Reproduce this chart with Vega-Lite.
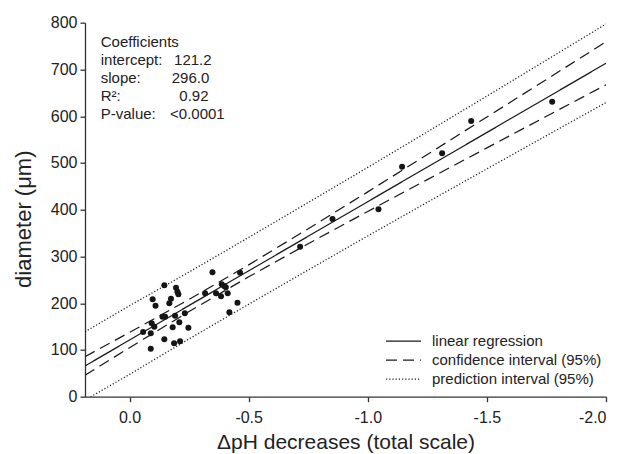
{
  "$schema": "https://vega.github.io/schema/vega-lite/v6.json",
  "width": 521,
  "height": 374,
  "autosize": {"type": "none"},
  "padding": {"left": 85, "top": 22.7, "right": 16, "bottom": 57.3},
  "background": "white",
  "config": {
    "view": {"stroke": null},
    "font": "Liberation Sans",
    "axis": {
      "labelFont": "Liberation Sans",
      "titleFont": "Liberation Sans",
      "labelFontSize": 16,
      "titleFontSize": 21,
      "titleFontWeight": "normal",
      "labelColor": "#222",
      "titleColor": "#222",
      "domainColor": "#333",
      "tickColor": "#333",
      "domainWidth": 1.3,
      "tickWidth": 1.3,
      "tickSize": 5,
      "grid": false
    },
    "legend": {
      "labelFont": "Liberation Sans",
      "labelFontSize": 15,
      "labelColor": "#222",
      "labelLimit": 400
    }
  },
  "datasets": {
    "fits": [
      {"x": 0.187, "y": 65.8, "kind": "linear regression", "band": "mid"},
      {"x": 0, "y": 121.2, "kind": "linear regression", "band": "mid"},
      {"x": -0.5, "y": 269.2, "kind": "linear regression", "band": "mid"},
      {"x": -1.0, "y": 417.2, "kind": "linear regression", "band": "mid"},
      {"x": -1.5, "y": 565.2, "kind": "linear regression", "band": "mid"},
      {"x": -2.0, "y": 713.2, "kind": "linear regression", "band": "mid"},

      {"x": 0.187, "y": 85.8, "kind": "confidence interval (95%)", "band": "ciU"},
      {"x": 0, "y": 137.5, "kind": "confidence interval (95%)", "band": "ciU"},
      {"x": -0.25, "y": 208.1, "kind": "confidence interval (95%)", "band": "ciU"},
      {"x": -0.5, "y": 282.0, "kind": "confidence interval (95%)", "band": "ciU"},
      {"x": -0.75, "y": 359.1, "kind": "confidence interval (95%)", "band": "ciU"},
      {"x": -1.0, "y": 438.1, "kind": "confidence interval (95%)", "band": "ciU"},
      {"x": -1.25, "y": 518.0, "kind": "confidence interval (95%)", "band": "ciU"},
      {"x": -1.5, "y": 598.2, "kind": "confidence interval (95%)", "band": "ciU"},
      {"x": -1.75, "y": 678.6, "kind": "confidence interval (95%)", "band": "ciU"},
      {"x": -2.0, "y": 759.2, "kind": "confidence interval (95%)", "band": "ciU"},

      {"x": 0.187, "y": 45.8, "kind": "confidence interval (95%)", "band": "ciL"},
      {"x": 0, "y": 104.9, "kind": "confidence interval (95%)", "band": "ciL"},
      {"x": -0.25, "y": 182.3, "kind": "confidence interval (95%)", "band": "ciL"},
      {"x": -0.5, "y": 256.4, "kind": "confidence interval (95%)", "band": "ciL"},
      {"x": -0.75, "y": 327.3, "kind": "confidence interval (95%)", "band": "ciL"},
      {"x": -1.0, "y": 396.3, "kind": "confidence interval (95%)", "band": "ciL"},
      {"x": -1.25, "y": 464.4, "kind": "confidence interval (95%)", "band": "ciL"},
      {"x": -1.5, "y": 532.2, "kind": "confidence interval (95%)", "band": "ciL"},
      {"x": -1.75, "y": 599.8, "kind": "confidence interval (95%)", "band": "ciL"},
      {"x": -2.0, "y": 667.2, "kind": "confidence interval (95%)", "band": "ciL"},

      {"x": 0.187, "y": 138.9, "kind": "prediction interval (95%)", "band": "piU"},
      {"x": 0, "y": 194.7, "kind": "prediction interval (95%)", "band": "piU"},
      {"x": -0.25, "y": 266.7, "kind": "prediction interval (95%)", "band": "piU"},
      {"x": -0.5, "y": 340.7, "kind": "prediction interval (95%)", "band": "piU"},
      {"x": -0.75, "y": 415.3, "kind": "prediction interval (95%)", "band": "piU"},
      {"x": -1.0, "y": 490.5, "kind": "prediction interval (95%)", "band": "piU"},
      {"x": -1.25, "y": 566.5, "kind": "prediction interval (95%)", "band": "piU"},
      {"x": -1.5, "y": 643.0, "kind": "prediction interval (95%)", "band": "piU"},
      {"x": -1.75, "y": 720.0, "kind": "prediction interval (95%)", "band": "piU"},
      {"x": -2.0, "y": 797.2, "kind": "prediction interval (95%)", "band": "piU"},

      {"x": 0.187, "y": -7.3, "kind": "prediction interval (95%)", "band": "piL"},
      {"x": 0, "y": 47.7, "kind": "prediction interval (95%)", "band": "piL"},
      {"x": -0.25, "y": 123.7, "kind": "prediction interval (95%)", "band": "piL"},
      {"x": -0.5, "y": 197.7, "kind": "prediction interval (95%)", "band": "piL"},
      {"x": -0.75, "y": 271.1, "kind": "prediction interval (95%)", "band": "piL"},
      {"x": -1.0, "y": 343.9, "kind": "prediction interval (95%)", "band": "piL"},
      {"x": -1.25, "y": 415.9, "kind": "prediction interval (95%)", "band": "piL"},
      {"x": -1.5, "y": 487.4, "kind": "prediction interval (95%)", "band": "piL"},
      {"x": -1.75, "y": 558.4, "kind": "prediction interval (95%)", "band": "piL"},
      {"x": -2.0, "y": 629.2, "kind": "prediction interval (95%)", "band": "piL"}
    ],
    "points": [
      {"x": -0.348, "y": 266.0},
      {"x": -0.464, "y": 265.3},
      {"x": -0.146, "y": 238.2},
      {"x": -0.195, "y": 233.2},
      {"x": -0.201, "y": 224.7},
      {"x": -0.205, "y": 219.0},
      {"x": -0.174, "y": 209.7},
      {"x": -0.097, "y": 208.3},
      {"x": -0.167, "y": 199.7},
      {"x": -0.109, "y": 194.7},
      {"x": -0.317, "y": 221.1},
      {"x": -0.363, "y": 221.1},
      {"x": -0.387, "y": 240.4},
      {"x": -0.397, "y": 236.8},
      {"x": -0.404, "y": 234.0},
      {"x": -0.412, "y": 221.1},
      {"x": -0.384, "y": 214.7},
      {"x": -0.453, "y": 201.1},
      {"x": -0.419, "y": 180.5},
      {"x": -0.232, "y": 178.3},
      {"x": -0.191, "y": 173.3},
      {"x": -0.138, "y": 171.2},
      {"x": -0.149, "y": 171.2},
      {"x": -0.093, "y": 156.9},
      {"x": -0.104, "y": 149.8},
      {"x": -0.209, "y": 159.1},
      {"x": -0.181, "y": 148.4},
      {"x": -0.247, "y": 147.7},
      {"x": -0.057, "y": 138.4},
      {"x": -0.089, "y": 135.5},
      {"x": -0.146, "y": 122.7},
      {"x": -0.187, "y": 114.2},
      {"x": -0.212, "y": 118.4},
      {"x": -0.089, "y": 102.7},
      {"x": -0.716, "y": 321.0},
      {"x": -0.852, "y": 380.0},
      {"x": -1.045, "y": 401.0},
      {"x": -1.144, "y": 492.0},
      {"x": -1.312, "y": 521.0},
      {"x": -1.434, "y": 590.0},
      {"x": -1.774, "y": 631.0}
    ]
  },
  "layer": [
    {
      "data": {"name": "fits"},
      "mark": {"type": "line", "clip": true, "color": "#1a1a1a", "strokeWidth": 1.25},
      "encoding": {
        "x": {
          "field": "x", "type": "quantitative",
          "scale": {"domain": [0.187, -2.0], "nice": false, "zero": false},
          "axis": {
            "values": [0, -0.5, -1.0, -1.5, -2.0],
            "labelExpr": "datum.value == 0 ? '0.0' : '-' + format(-datum.value, '.1f')",
            "labelPadding": 8,
            "title": "ΔpH decreases (total scale)",
            "titleBaseline": "alphabetic",
            "titleY": 52
          }
        },
        "y": {
          "field": "y", "type": "quantitative",
          "scale": {"domain": [0, 800], "nice": false, "zero": false},
          "axis": {
            "values": [0, 100, 200, 300, 400, 500, 600, 700, 800],
            "labelPadding": 3,
            "title": "diameter (μm)",
            "titleFontSize": 22,
            "titleX": -62,
            "titleY": 196,
            "titleBaseline": "middle"
          }
        },
        "detail": {"field": "band"},
        "strokeDash": {
          "field": "kind", "type": "nominal",
          "scale": {
            "domain": ["linear regression", "confidence interval (95%)", "prediction interval (95%)"],
            "range": [[1, 0], [11, 6], [1.2, 2]]
          },
          "legend": {
            "title": null,
            "orient": "none",
            "legendX": 311,
            "legendY": 311,
            "padding": 0,
            "symbolType": "M-3.5,0H3.5",
            "symbolSize": 100,
            "symbolStrokeColor": "#1a1a1a",
            "symbolStrokeWidth": 1.25,
            "labelOffset": 21,
            "rowPadding": 3
          }
        }
      }
    },
    {
      "data": {"name": "points"},
      "mark": {"type": "circle", "color": "#151515", "opacity": 1, "size": 36},
      "encoding": {
        "x": {"field": "x", "type": "quantitative"},
        "y": {"field": "y", "type": "quantitative"}
      }
    },
    {
      "data": {"values": [{}]},
      "mark": {"type": "text", "text": ["Coefficients", "intercept:", "slope:", "R²:", "P-value:"], "align": "left", "baseline": "alphabetic", "fontSize": 15, "lineHeight": 18, "color": "#222"},
      "encoding": {
        "x": {"datum": 0.121, "type": "quantitative"},
        "y": {"datum": 747.4, "type": "quantitative"}
      }
    },
    {
      "data": {"values": [{}]},
      "mark": {"type": "text", "text": "121.2", "align": "left", "baseline": "alphabetic", "fontSize": 15, "color": "#222"},
      "encoding": {
        "x": {"datum": -0.187, "type": "quantitative"},
        "y": {"datum": 708.9, "type": "quantitative"}
      }
    },
    {
      "data": {"values": [{}]},
      "mark": {"type": "text", "text": "296.0", "align": "left", "baseline": "alphabetic", "fontSize": 15, "color": "#222"},
      "encoding": {
        "x": {"datum": -0.177, "type": "quantitative"},
        "y": {"datum": 670.4, "type": "quantitative"}
      }
    },
    {
      "data": {"values": [{}]},
      "mark": {"type": "text", "text": "0.92", "align": "left", "baseline": "alphabetic", "fontSize": 15, "color": "#222"},
      "encoding": {
        "x": {"datum": -0.209, "type": "quantitative"},
        "y": {"datum": 631.9, "type": "quantitative"}
      }
    },
    {
      "data": {"values": [{}]},
      "mark": {"type": "text", "text": "<0.0001", "align": "left", "baseline": "alphabetic", "fontSize": 15, "color": "#222"},
      "encoding": {
        "x": {"datum": -0.170, "type": "quantitative"},
        "y": {"datum": 593.4, "type": "quantitative"}
      }
    }
  ]
}
